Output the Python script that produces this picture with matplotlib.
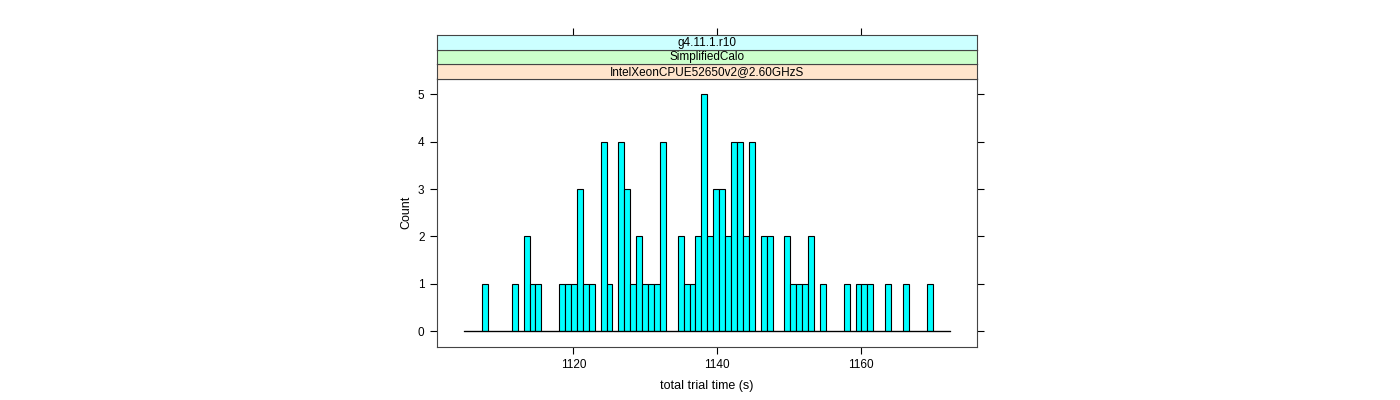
import numpy as np
import matplotlib
matplotlib.use("Agg")
import matplotlib.pyplot as plt

plt.rcParams["font.family"] = ["Liberation Sans", "DejaVu Sans"]

# histogram: first bin edge, bin width, counts per bin
hist_start = 1104.8
bin_width = 0.8256
counts = [
    0, 0, 0, 1, 0, 0, 0, 0, 1, 0,
    2, 1, 1, 0, 0, 0, 1, 1, 1, 3,
    1, 1, 0, 4, 1, 0, 4, 3, 1, 2,
    1, 1, 1, 4, 0, 0, 2, 1, 1, 2,
    5, 2, 3, 3, 2, 4, 4, 2, 4, 0,
    2, 2, 0, 0, 2, 1, 1, 1, 2, 0,
    1, 0, 0, 0, 1, 0, 1, 1, 1, 0,
    0, 1, 0, 0, 1, 0, 0, 0, 1, 0,
    0, 0,
]
strip_labels = ["IntelXeonCPUE52650v2@2.60GHzS", "SimplifiedCalo", "g4.11.1.r10"]
strip_colors = ["#ffe5cc", "#ccffcc", "#ccffff"]
x_ticks = [1120, 1140, 1160]
y_ticks = [0, 1, 2, 3, 4, 5]

W, H = 1400, 400
fig = plt.figure(figsize=(14, 4), dpi=100)

left, right = 437 / W, 977 / W
bottom, top = 1 - 347 / H, 1 - 78.5 / H
ax = fig.add_axes([left, bottom, right - left, top - bottom])

edges = hist_start + bin_width * np.arange(len(counts) + 1)
ax.bar(edges[:-1], counts, width=bin_width, align="edge",
       color="#00ffff", edgecolor="black", linewidth=0.8)
ax.plot([edges[0], edges[-1]], [0, 0], color="black", lw=0.9)

ax.set_xlim(1101.0, 1176.2)
ax.set_ylim(-0.33, 5.33)
ax.set_xticks(x_ticks)
ax.set_yticks(y_ticks)
ax.tick_params(axis="both", direction="out", length=5, width=0.8,
               labelsize=8.5, pad=4, colors="black")
ax.tick_params(axis="y", right=True, labelright=False)
ax.tick_params(axis="x", top=False)
for sp in ax.spines.values():
    sp.set_linewidth(0.8)
    sp.set_color("#444444")
ax.set_xlabel("total trial time (s)", fontsize=9, labelpad=6)
ax.set_ylabel("Count", fontsize=9, labelpad=4)

# lattice-style strips
strip_h = 14.5 / H
for i, (lab, col) in enumerate(zip(strip_labels, strip_colors)):
    sax = fig.add_axes([left, top + i * strip_h, right - left, strip_h],
                       sharex=ax)
    sax.set_facecolor(col)
    sax.set_yticks([])
    sax.tick_params(axis="x", bottom=False, labelbottom=False,
                    top=(i == len(strip_labels) - 1), labeltop=False,
                    direction="out", length=5, width=0.8)
    for sp in sax.spines.values():
        sp.set_linewidth(0.8)
        sp.set_color("#444444")
    sax.text(0.5, 0.45, lab, transform=sax.transAxes, ha="center",
             va="center", fontsize=8.5)

fig.savefig("out.png", dpi=100)
